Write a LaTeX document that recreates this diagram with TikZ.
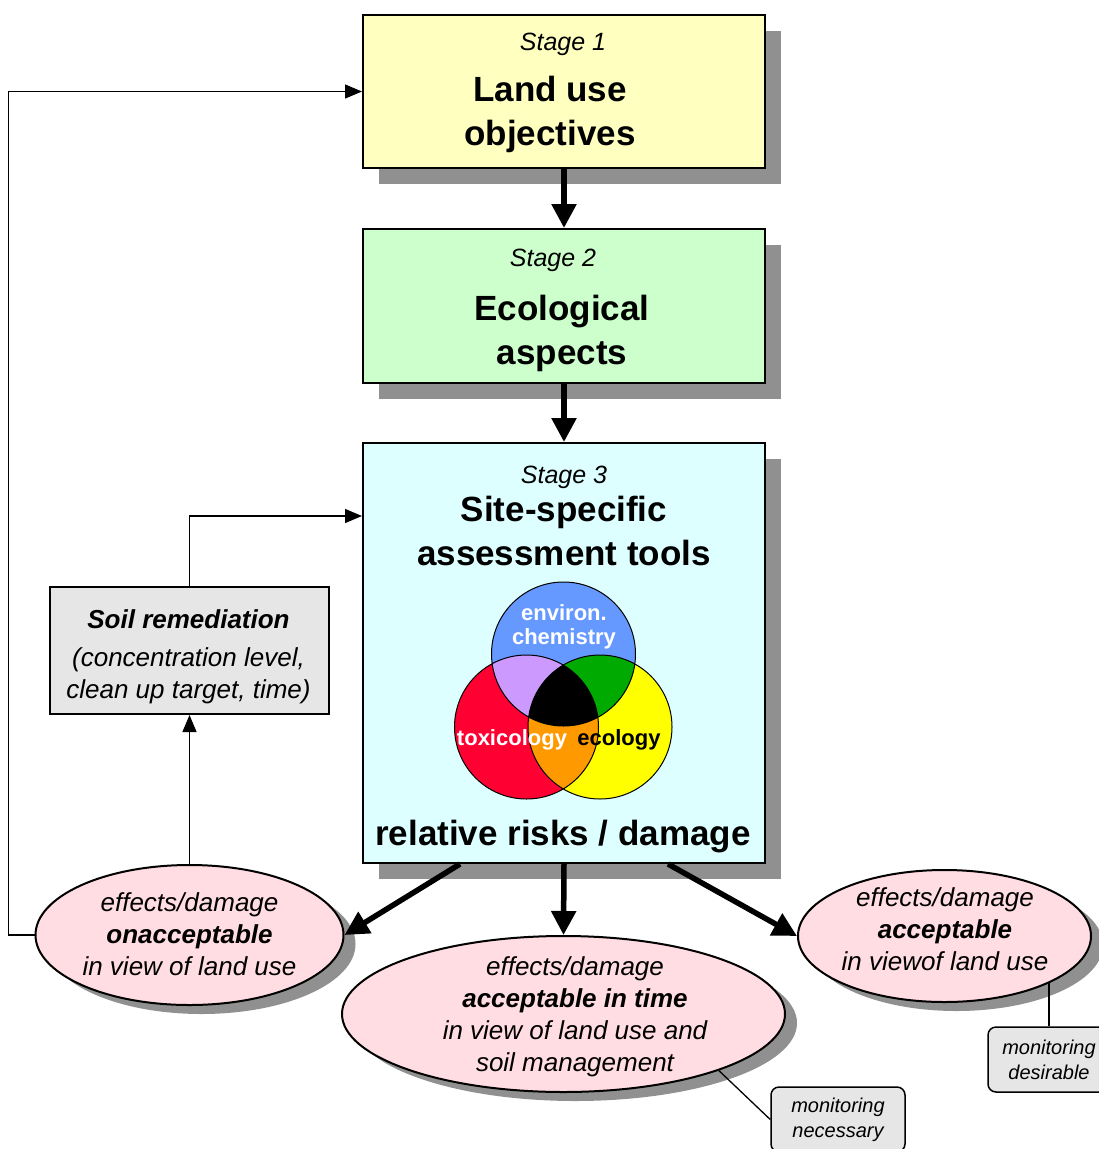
\documentclass[tikz,border=0pt]{standalone}
\usepackage{fontspec}
\setmainfont{Liberation Sans}
\usetikzlibrary{arrows.meta}
\usetikzlibrary{positioning}
\usetikzlibrary{shapes.geometric}
\usetikzlibrary{shadows}
\definecolor{stageyellow}{HTML}{FFFFC0}
\definecolor{stagegreen}{HTML}{CCFFCC}
\definecolor{stagecyan}{HTML}{DDFFFF}
\definecolor{effectpink}{HTML}{FFDDE3}
\definecolor{notegray}{HTML}{E6E6E6}
\definecolor{shadowgray}{HTML}{909090}
\definecolor{vennblue}{HTML}{6699FF}
\definecolor{vennred}{HTML}{FF0033}
\definecolor{vennyellow}{HTML}{FFFF00}
\definecolor{vennpurple}{HTML}{CC99FF}
\definecolor{venngreen}{HTML}{00AA00}
\definecolor{vennorange}{HTML}{FF9900}
\tikzset{
	>={Triangle[length=17pt,width=14pt]},
	stagebox/.style={
		rectangle,
		draw=black, line width=2pt,
		minimum width=402pt,
		drop shadow={shadow xshift=16pt, shadow yshift=-16pt, fill=shadowgray, opacity=1}},
	stagelabel/.style={anchor=base, inner sep=0pt, font=\fontsize{25}{30}\selectfont\itshape},
	stagetitle/.style={align=center, inner sep=0pt, font=\fontsize{35}{44}\selectfont\bfseries},
	effect/.style={
		ellipse,
		inner sep=0pt,
		fill=effectpink,
		draw=black, line width=2pt,
		drop shadow={shadow xshift=12pt, shadow yshift=-9pt, fill=shadowgray, opacity=1}},
	effecttext/.style={align=center, inner sep=0pt, font=\fontsize{26}{32}\selectfont\itshape},
	notebox/.style={
		rectangle,
		rounded corners=8pt,
		fill=notegray,
		draw=black, line width=1.5pt,
		minimum height=65pt,
		align=center,
		font=\fontsize{20}{25}\selectfont\itshape},
	bigarrow/.style={-{Triangle[length=24pt,width=24pt]}, line width=5.5pt},
	line/.style={draw, line width=1.3pt},
	venntext/.style={inner sep=0pt, align=center, font=\fontsize{22}{24}\selectfont\bfseries},
}
\begin{document}
\begin{tikzpicture}[x=1pt,y=-1pt]
	\useasboundingbox (0,0) rectangle (1099,1149);
	% stages
	\node[stagebox, fill=stageyellow, minimum height=153pt] (stage1) at (564,91.5) {};
	\node[stagebox, fill=stagegreen, minimum height=154pt, below=59pt of stage1] (stage2) {};
	\node[stagebox, fill=stagecyan, minimum height=420pt, below=58pt of stage2] (stage3) {};
	\node[stagelabel] (label1) at (563,50) {Stage 1};
	\node[stagetitle] (title1) at (550,114) {Land use\\objectives};
	\node[stagelabel] (label2) at (553,266) {Stage 2};
	\node[stagetitle] (title2) at (562,333.5) {Ecological\\aspects};
	\node[stagelabel] (label3) at (564,483) {Stage 3};
	\node[stagetitle] (title3) at (564,531) {Site-specific\\assessment tools};
	\node[stagetitle, anchor=base] (risk) at (563,845) {relative risks / damage};
	% venn
	\coordinate (chem) at (563.5,654);
	\coordinate (tox) at (526.5,727);
	\coordinate (eco) at (600,727);
	\fill[vennred] (tox) circle[radius=72pt];
	\fill[vennyellow] (eco) circle[radius=72pt];
	\fill[vennblue] (chem) circle[radius=72pt];
	\begin{scope}
		\clip (tox) circle[radius=72pt];
		\fill[vennpurple] (chem) circle[radius=72pt];
		\fill[vennorange] (eco) circle[radius=72pt];
	\end{scope}
	\begin{scope}
		\clip (chem) circle[radius=72pt];
		\fill[venngreen] (eco) circle[radius=72pt];
		\clip (tox) circle[radius=72pt];
		\fill[black] (eco) circle[radius=72pt];
	\end{scope}
	\draw[line width=1pt] (tox) circle[radius=72pt] (eco) circle[radius=72pt] (chem) circle[radius=72pt];
	\node[venntext, white] (chemtext) at (564,627) {environ.\\chemistry};
	\node[venntext, white, anchor=base] (toxtext) at (512,745) {toxicology};
	\node[venntext, black, anchor=base] (ecotext) at (619,745) {ecology};
	% outcomes
	\node[effect, minimum width=308pt, minimum height=140pt] (unaccept) at (189.5,935) {};
	\node[effecttext] (unaccepttext) at (189.5,934) {effects/damage\\\textbf{onacceptable}\\in view of land use};
	\node[effect, minimum width=443pt, minimum height=156pt] (accepttime) at (563.5,1014) {};
	\node[effecttext] (accepttimetext) at (575,1017) {effects/damage\\\textbf{acceptable in time}\\in view of land use and\\soil management};
	\node[effect, minimum width=293pt, minimum height=132pt] (acceptok) at (944.5,936) {};
	\node[effecttext] (acceptoktext) at (945,929) {effects/damage\\\textbf{acceptable}\\in viewof land use};
	% remediation and monitoring
	\node[rectangle, fill=notegray, draw=black, line width=2pt, minimum width=279pt, minimum height=127pt] (soil) at (189.5,650.5) {};
	\node[effecttext, anchor=base] (soiltitle) at (188.5,628) {\bfseries Soil remediation};
	\node[effecttext] (soilbody) at (188.5,676) {(concentration level,\\clean up target, time)};
	\node[notebox, minimum width=134pt] (necessary) at (838,1119.5) {monitoring\\necessary};
	\node[notebox, minimum width=122pt] (desirable) at (1049,1059.5) {monitoring\\desirable};
	% connectors
	\draw[bigarrow] (stage1.south) -- (stage2.north);
	\draw[bigarrow] (stage2.south) -- (stage3.north);
	\draw[bigarrow] ([xshift=-104pt]stage3.south) -- (unaccept.east);
	\draw[bigarrow] (stage3.south) -- (accepttime.north);
	\draw[bigarrow] ([xshift=104pt]stage3.south) -- (acceptok.west);
	\draw[line, ->] (unaccept.north) -- (soil.south);
	\draw[line, ->] (soil.north) |- ([yshift=137pt]stage3.west);
	\draw[line, ->] (unaccept.west) -- ++(-26,0) |- (stage1.west);
	\draw[line] (accepttime.-20) -- (necessary.west);
	\draw[line] (desirable.north) -- (desirable.north |- acceptok.-24);
\end{tikzpicture}
\end{document}
